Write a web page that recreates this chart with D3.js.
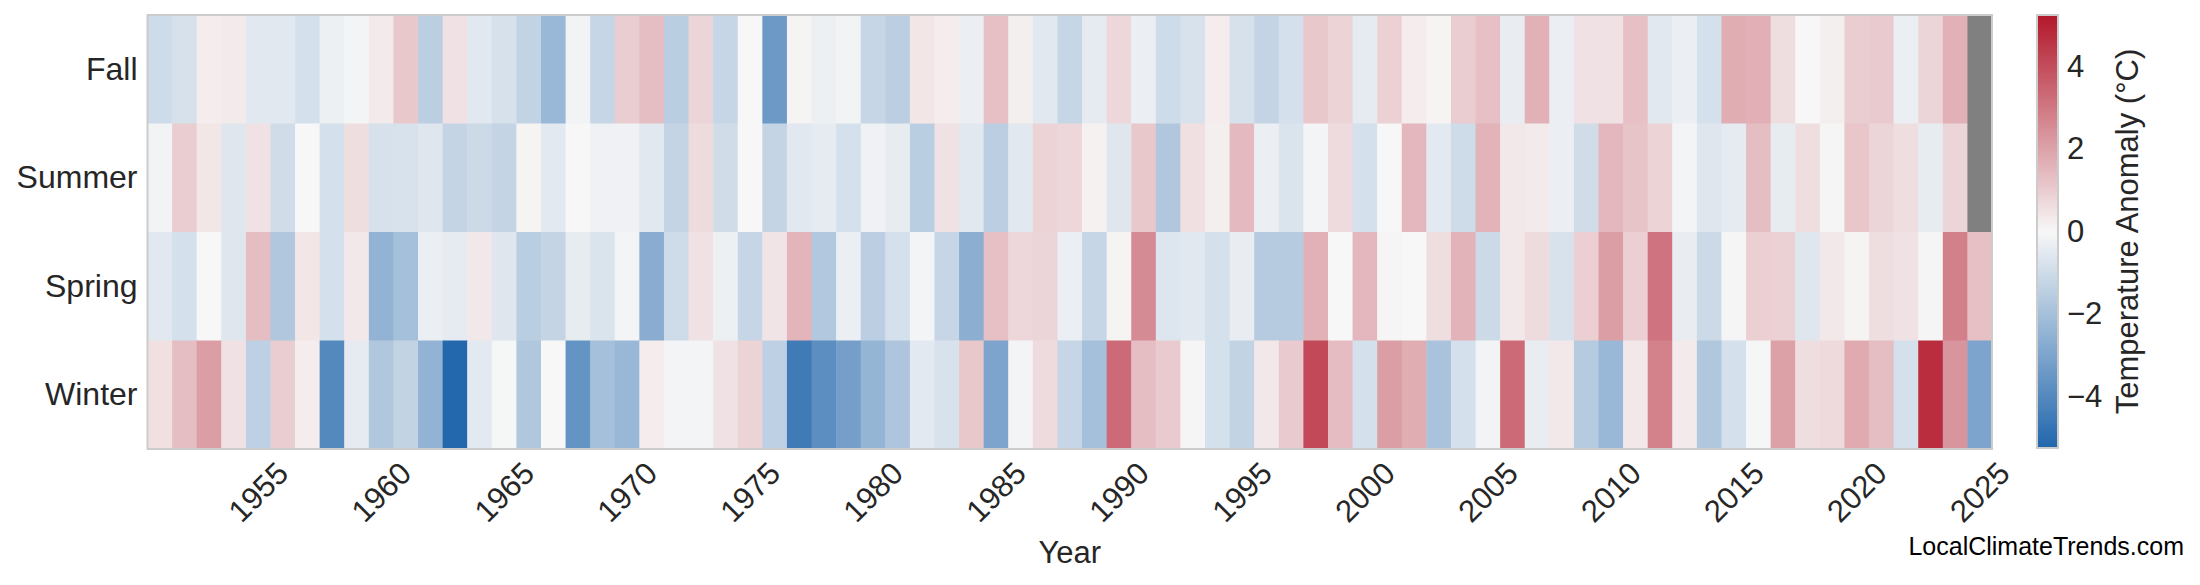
<!DOCTYPE html>
<html>
<head>
<meta charset="utf-8">
<script src="https://cdn.jsdelivr.net/npm/d3@7"></script>
<style>
  html, body { margin: 0; padding: 0; background: #ffffff; }
  svg { display: block; }
  text { font-family: "Liberation Sans", Arial, sans-serif; }
</style>
</head>
<body>
<svg id="chart" width="2200" height="585"></svg>
<script>
// ---------------- DATA ----------------
const years = [1951,1952,1953,1954,1955,1956,1957,1958,1959,1960,
  1961,1962,1963,1964,1965,1966,1967,1968,1969,1970,
  1971,1972,1973,1974,1975,1976,1977,1978,1979,1980,
  1981,1982,1983,1984,1985,1986,1987,1988,1989,1990,
  1991,1992,1993,1994,1995,1996,1997,1998,1999,2000,
  2001,2002,2003,2004,2005,2006,2007,2008,2009,2010,
  2011,2012,2013,2014,2015,2016,2017,2018,2019,2020,
  2021,2022,2023,2024,2025];

const seasons = ["Fall", "Summer", "Spring", "Winter"];

const fall = [-1.0,-0.8,0.25,0.3,-0.55,-0.55,-0.85,-0.25,-0.1,0.3,
  1.1,-1.45,0.5,-0.55,-0.8,-1.3,-2.3,-0.15,-1.2,1.0,
  1.35,-1.5,0.8,-1.2,0.0,-3.4,0.1,-0.25,-0.15,-1.2,
  -1.45,0.4,0.25,-0.3,1.3,0.2,-0.55,-1.2,-0.45,0.75,
  -0.3,-1.0,-0.75,0.25,-0.8,-1.25,-0.85,1.1,0.85,-0.45,
  0.9,0.25,0.1,1.0,1.3,-0.35,1.65,-0.3,0.5,0.5,
  1.3,-0.55,-0.3,-0.85,1.75,1.7,0.6,0.0,0.2,1.0,
  1.05,-0.3,0.8,1.65,null];

const summer = [-0.15,1.0,0.4,-0.6,0.5,-0.95,0.0,-0.85,0.6,-0.8,
  -0.75,-0.6,-1.25,-1.05,-1.25,0.1,-0.5,0.0,-0.2,-0.2,
  -0.55,-1.25,0.65,-0.95,0.0,-1.25,-0.55,-0.45,-0.85,-0.2,
  -0.4,-1.5,0.5,-0.55,-1.45,-0.55,0.85,0.75,0.15,-0.6,
  1.1,-1.75,0.55,0.2,1.45,-0.3,-0.7,-0.1,0.65,-0.85,
  0.0,1.5,-0.5,-1.0,1.6,0.35,0.3,-0.3,-0.95,1.5,
  1.2,0.85,-0.1,-0.6,-0.45,1.35,-0.4,0.6,0.05,1.15,
  0.8,0.6,-0.4,0.8,null];

const spring = [-0.55,-0.85,0.0,-0.6,1.35,-1.75,0.4,-0.85,0.35,-2.45,
  -2.0,-0.3,-0.45,0.35,-0.6,-1.5,-1.25,-0.4,-0.7,-0.1,
  -2.7,-1.0,0.5,-0.25,-1.2,0.45,1.55,-1.7,-0.3,-1.45,
  -0.85,-0.1,-1.2,-2.65,1.3,0.75,0.8,-0.3,-1.2,0.1,
  2.55,-0.65,-0.55,-0.85,-0.35,-1.6,-1.6,1.65,0.0,1.5,
  0.05,0.0,0.6,1.6,-1.05,0.35,0.65,-0.75,0.95,2.1,
  0.95,3.1,-0.35,-1.05,0.05,0.95,0.9,-0.6,0.35,0.1,
  0.6,0.5,0.05,2.8,1.3];

const winter = [0.55,1.35,2.1,0.5,-1.4,1.0,0.25,-4.0,-0.45,-1.75,
  -1.3,-2.45,-5.2,-0.5,-0.05,-1.75,0.0,-3.6,-2.0,-2.3,
  0.25,-0.1,-0.1,0.5,0.85,-1.4,-4.5,-3.8,-3.2,-2.4,
  -1.8,-0.5,-0.75,1.1,-3.0,-0.1,0.65,-1.2,-2.0,3.3,
  1.35,1.05,0.05,-0.85,-1.3,0.35,1.05,4.1,1.4,-0.85,
  2.1,1.75,-1.9,-0.85,-0.15,3.3,-0.35,0.35,-1.6,-2.3,
  0.35,2.75,0.3,-1.75,-0.85,-0.05,2.05,0.6,0.7,1.8,
  1.35,-0.85,4.75,2.3,-3.0];

const xTickLabels = ["1955","1960","1965","1970","1975","1980","1985","1990",
  "1995","2000","2005","2010","2015","2020","2025"];
const colorbarTicks = [-4, -2, 0, 2, 4];
const colorLimit = 5.25;

// --------------- BUILD TABLE ---------------
const seriesBySeason = { Fall: fall, Summer: summer, Spring: spring, Winter: winter };
const cells = [];
seasons.forEach(s => {
  seriesBySeason[s].forEach((v, i) => cells.push({ season: s, year: years[i], value: v }));
});

// --------------- LAYOUT ---------------
const svg = d3.select("#chart");
const plot = { left: 147.5, right: 1992, top: 15, bottom: 449 };
const fontColor = "#262626";
const fs = 31;

const x = d3.scaleBand().domain(years).range([plot.left, plot.right]).padding(0);
const y = d3.scaleBand().domain(seasons).range([plot.top, plot.bottom]).padding(0);
const color = d3.scaleLinear()
  .domain([-colorLimit, 0, colorLimit])
  .range(["#2166ac", "#f7f7f7", "#b2182b"])
  .clamp(true);

// heatmap cells
svg.append("g").selectAll("rect")
  .data(cells)
  .join("rect")
  .attr("x", d => x(d.year))
  .attr("y", d => y(d.season))
  .attr("width", x.bandwidth() + 0.5)
  .attr("height", y.bandwidth() + 0.5)
  .attr("fill", d => d.value === null ? "#808080" : color(d.value));

// plot border
svg.append("rect")
  .attr("x", plot.left).attr("y", plot.top)
  .attr("width", plot.right - plot.left).attr("height", plot.bottom - plot.top)
  .attr("fill", "none").attr("stroke", "#cccccc").attr("stroke-width", 2);

// x axis
const xAxis = d3.axisBottom(x)
  .tickValues(xTickLabels.map(Number))
  .tickSize(0)
  .tickPadding(0);
const gx = svg.append("g").attr("transform", `translate(0,${plot.bottom})`).call(xAxis);
gx.select(".domain").remove();
gx.selectAll("text")
  .attr("y", 0)
  .attr("dy", "0.35em")
  .attr("text-anchor", "middle")
  .attr("transform", "translate(0,43) rotate(-45)")
  .style("font-size", fs + "px")
  .style("font-family", '"Liberation Sans", Arial, sans-serif')
  .attr("fill", fontColor);

// y axis
const yAxis = d3.axisLeft(y).tickSize(0).tickPadding(10);
const gy = svg.append("g").attr("transform", `translate(${plot.left},0)`).call(yAxis);
gy.select(".domain").remove();
gy.selectAll("text")
  .style("font-size", "32px")
  .style("font-family", '"Liberation Sans", Arial, sans-serif')
  .attr("fill", fontColor);

// axis title
svg.append("text")
  .attr("x", (plot.left + plot.right) / 2)
  .attr("y", 563)
  .attr("text-anchor", "middle")
  .style("font-size", "31px")
  .attr("fill", fontColor)
  .text("Year");

// --------------- COLORBAR ---------------
const cb = { x: 2037, width: 21, top: 15, bottom: 448 };
const defs = svg.append("defs");
const grad = defs.append("linearGradient")
  .attr("id", "cbgrad").attr("x1", "0").attr("y1", "1").attr("x2", "0").attr("y2", "0");
d3.range(0, 1.0001, 0.05).forEach(t => {
  grad.append("stop")
    .attr("offset", t)
    .attr("stop-color", color(-colorLimit + 2 * colorLimit * t));
});
svg.append("rect")
  .attr("x", cb.x).attr("y", cb.top)
  .attr("width", cb.width).attr("height", cb.bottom - cb.top)
  .attr("fill", "url(#cbgrad)")
  .attr("stroke", "#cccccc").attr("stroke-width", 2);

const cbScale = d3.scaleLinear().domain([-colorLimit, colorLimit]).range([cb.bottom, cb.top]);
const cbAxis = d3.axisRight(cbScale).tickValues(colorbarTicks).tickSize(0).tickPadding(9);
const gc = svg.append("g").attr("transform", `translate(${cb.x + cb.width},0)`).call(cbAxis);
gc.select(".domain").remove();
gc.selectAll("text")
  .style("font-size", fs + "px")
  .style("font-family", '"Liberation Sans", Arial, sans-serif')
  .attr("fill", fontColor);

svg.append("text")
  .attr("transform", `translate(2127,${(cb.top + cb.bottom) / 2}) rotate(-90)`)
  .attr("text-anchor", "middle")
  .attr("dy", "0.35em")
  .style("font-size", "31px")
  .attr("fill", fontColor)
  .text("Temperature Anomaly (°C)");

// watermark
svg.append("text")
  .attr("x", 2184).attr("y", 555)
  .attr("text-anchor", "end")
  .style("font-size", "25px")
  .attr("fill", "#000000")
  .text("LocalClimateTrends.com");
</script>
</body>
</html>
